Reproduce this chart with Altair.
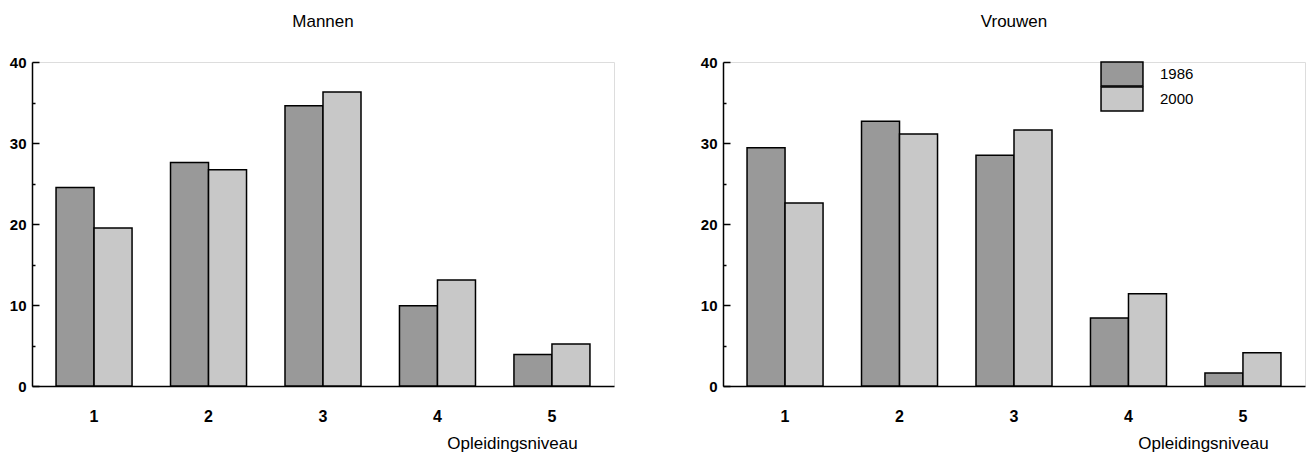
import altair as alt
import pandas as pd

# Categories
levels = ["1", "2", "3", "4", "5"]
years = ["1986", "2000"]

# Percentages
men_1986 = [24.5, 27.6, 34.6, 9.9, 3.9]
men_2000 = [19.5, 26.7, 36.3, 13.1, 5.2]
women_1986 = [29.4, 32.7, 28.5, 8.4, 1.6]
women_2000 = [22.6, 31.1, 31.6, 11.4, 4.1]

y_labels = [0, 10, 20, 30, 40]
y_ticks = [0, 5, 10, 15, 20, 25, 30, 35, 40]

FONT = "Liberation Sans"
FILLS = ["#999999", "#c8c8c8"]
W, H = 582, 324


def make_df(a, b):
    rows = []
    for lv, v in zip(levels, a):
        rows.append({"level": lv, "year": years[0], "value": v})
    for lv, v in zip(levels, b):
        rows.append({"level": lv, "year": years[1], "value": v})
    return pd.DataFrame(rows)


def panel(df, title, show_legend):
    base = alt.Chart(df)
    if show_legend:
        legend = alt.Legend(
            orient="none", legendX=389, legendY=2, title=None,
            symbolType="M-2.33,-1.33H2.33V1.33H-2.33Z", symbolSize=324,
            symbolStrokeColor="black", symbolStrokeWidth=1.5, symbolOpacity=1,
            labelFont=FONT, labelFontSize=15, labelColor="black",
            labelOffset=28, rowPadding=-5.5,
        )
        color = alt.Color("year:N", sort=years,
                          scale=alt.Scale(domain=years, range=FILLS), legend=legend)
    else:
        color = alt.Color("year:N", sort=years,
                          scale=alt.Scale(domain=years, range=FILLS), legend=None)

    x = alt.X("level:N", sort=levels,
              scale=alt.Scale(paddingInner=0.336, paddingOuter=0.21),
              axis=alt.Axis(title="Opleidingsniveau", labelAngle=0, ticks=False, tickSize=0,
                            labelPadding=22, labelFontSize=16, labelFontWeight="bold",
                            labelFont=FONT, labelColor="black",
                            domainColor="black", domainWidth=1.5,
                            titleFont=FONT, titleFontSize=17, titleFontWeight="normal",
                            titleColor="black", titleX=480, titleY=62,
                            titleAlign="center", titleBaseline="alphabetic"))

    bars = base.mark_bar(stroke="black", strokeWidth=1.5, opacity=1).encode(
        x=x,
        xOffset=alt.XOffset("year:N", sort=years),
        y=alt.Y("value:Q", scale=alt.Scale(domain=[0, 40], nice=False),
                axis=alt.Axis(orient="left", values=y_labels, ticks=False, grid=False,
                              title=None, labelPadding=6, labelFont=FONT,
                              labelFontSize=15, labelFontWeight="bold", labelColor="black",
                              domainColor="black", domainWidth=1.5)),
        color=color,
    )

    tick_layer = base.mark_point(opacity=0).encode(
        x=alt.X("level:N", sort=levels),
        y=alt.Y("value:Q", scale=alt.Scale(domain=[0, 40], nice=False),
                axis=alt.Axis(orient="right", offset=-W, values=y_ticks, labels=False,
                              domain=False, grid=False, title=None, tickColor="black",
                              tickWidth=1.5,
                              tickSize={"condition": {"test": "datum.value % 10 === 0", "value": 7},
                                        "value": 3})),
    )

    return alt.layer(bars, tick_layer).resolve_axis(y="independent").properties(
        width=W, height=H,
        title=alt.TitleParams(title, font=FONT, fontSize=17, fontWeight="normal",
                              color="black", offset=24, anchor="middle"),
    )


left = panel(make_df(men_1986, men_2000), "Mannen", False)
right = panel(make_df(women_1986, women_2000), "Vrouwen", True)

chart = alt.hconcat(left, right, spacing=84).resolve_scale(color="independent").properties(
    padding={"top": 4, "left": 0, "right": 0, "bottom": 0}
).configure_view(strokeWidth=0).configure(background="white")

chart.save("out.html", embed_options={"renderer": "svg", "actions": False})
